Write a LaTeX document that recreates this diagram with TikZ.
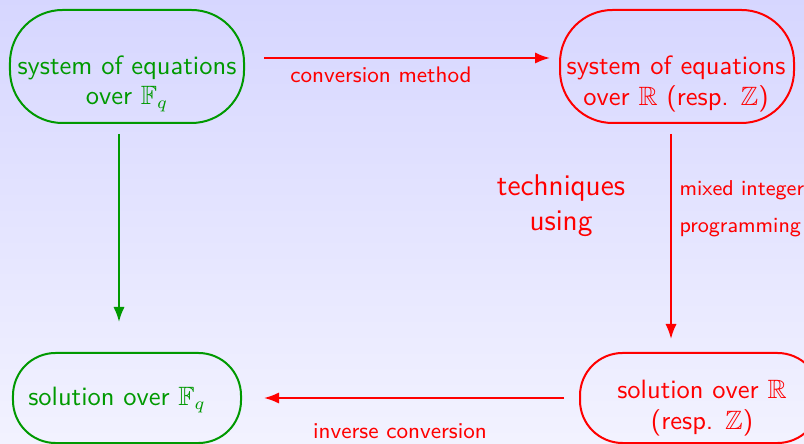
\documentclass[tikz,border=0pt]{standalone}
\usepackage{amssymb}
\usetikzlibrary{arrows.meta,calc}
\definecolor{dgreen}{RGB}{0,153,0}
\begin{document}
\begin{tikzpicture}[x=0.4pt,y=-0.4pt,
  box/.style={draw, line width=0.8pt, inner sep=0pt},
  txt/.style={font=\sffamily\fontsize{10.6pt}{12.2pt}\selectfont, align=center, inner sep=0pt},
  arr/.style={line width=0.8pt, -{Latex[length=6pt,width=4.5pt]}}]
\useasboundingbox (0,0) rectangle (804,444);
\clip (0,0) rectangle (804,444);
\shade[top color=blue!16, bottom color=blue!5] (0,0) rectangle (804,444);

\node[box, dgreen, rounded corners=21pt, minimum width=93.6pt, minimum height=45.2pt] (A) at (127,66.5) {};
\node[txt, text=dgreen] (At) at (127,84) {system of equations\\over $\mathbb{F}_q$};

\node[box, red, rounded corners=21pt, minimum width=93.6pt, minimum height=45.2pt] (B) at (677,66.5) {};
\node[txt, text=red] (Bt) at (676,84) {system of equations\\over $\mathbb{R}$ (resp. $\mathbb{Z}$)};

\node[box, dgreen, rounded corners=17pt, minimum width=91.2pt, minimum height=36pt] (C) at (127,398) {};
\node[txt, text=dgreen] (Ct) at (117,400) {solution over $\mathbb{F}_q$};

\node[box, red, rounded corners=17pt, minimum width=96pt, minimum height=36pt] (D) at (700,398) {};
\node[txt, text=red] (Dt) at (702,408) {solution over $\mathbb{R}$\\(resp. $\mathbb{Z}$)};

\draw[arr, red] ($(A.east)+(19,-8.5)$) -- ($(B.west)+(-9,-8.5)$);
\draw[arr, dgreen] ($(A.south)+(-8,10)$) -- ($(C.north)+(-8,-30)$);
\draw[arr, red] ($(B.south)+(-6,10)$) -- ($(D.north)+(-29,-13)$);
\draw[arr, red] ($(D.west)+(-15,0)$) -- ($(C.east)+(22,0)$);

\node[txt, text=red, font=\sffamily\small] (L1) at (381,75) {conversion method};
\node[txt, text=red, font=\sffamily\large] (L2) at (561,206) {techniques\\using};
\node[txt, text=red, font=\sffamily\fontsize{8.6pt}{10.5pt}\selectfont, align=left, anchor=west] (L3) at (679,209) {mixed integer\\[4.3pt]programming};
\node[txt, text=red, font=\sffamily\small] (L4) at (400,431) {inverse conversion};
\end{tikzpicture}
\end{document}
